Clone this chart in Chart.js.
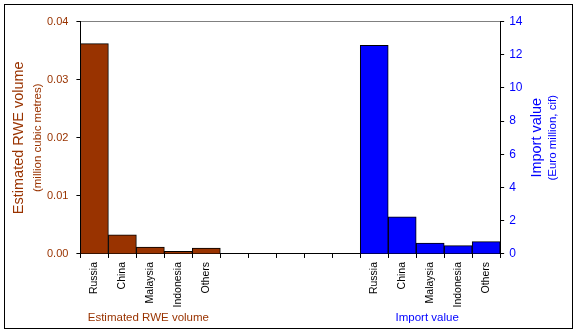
<!DOCTYPE html>
<html>
<head>
<meta charset="utf-8">
<script src="https://cdn.jsdelivr.net/npm/chart.js@4/dist/chart.umd.min.js"></script>
<style>
  html, body { margin: 0; padding: 0; background: #fff; }
  #wrap { position: relative; width: 577px; height: 332px; }
</style>
</head>
<body>
<div id="wrap"><canvas id="chart"></canvas></div>
<script>
const categories = ['Russia', 'China', 'Malaysia', 'Indonesia', 'Others'];
const gapSlots = 5;
// estimated RWE volume, million cubic metres
const volume = [0.0362, 0.0033, 0.0012, 0.00045, 0.00103];
// import value, Euro million cif
const importValue = [12.57, 2.23, 0.66, 0.50, 0.74];
const volumeTicks = [0, 0.01, 0.02, 0.03, 0.04];
const importTicks = [0, 2, 4, 6, 8, 10, 12, 14];

const BROWN = '#993300';
const BLUE = '#0000ff';
const FONT = '"Liberation Sans", Arial, sans-serif';

const blanks = new Array(gapSlots).fill('');
const labels = [...categories, ...blanks, ...categories];
const pad = n => new Array(n).fill(null);

Chart.defaults.font.family = FONT;

// frame, axis titles and group captions
const extras = {
    id: 'extras',
    beforeDraw(chart) {
        const c = chart.ctx;
        c.save();
        c.fillStyle = '#fff';
        c.fillRect(0, 0, chart.width, chart.height);
        c.strokeStyle = '#000';
        c.lineWidth = 1;
        c.strokeRect(4.5, 4.5, 568, 324);
        c.restore();
    },
    afterDraw(chart) {
        const c = chart.ctx;
        const area = chart.chartArea;
        const midY = (area.top + area.bottom) / 2;
        const vert = (text, x, size, color) => {
            c.save();
            c.translate(x, midY);
            c.rotate(-Math.PI / 2);
            c.font = size + 'px ' + FONT;
            c.fillStyle = color;
            c.textAlign = 'center';
            c.textBaseline = 'middle';
            c.fillText(text, 0, 0);
            c.restore();
        };
        vert('Estimated RWE volume', 19, 14.5, BROWN);
        vert('(million cubic metres)', 38, 11.5, BROWN);
        vert('Import value', 537, 14.5, BLUE);
        vert('(Euro million, cif)', 553, 11.5, BLUE);

        const x = chart.scales.x;
        const n = categories.length;
        const mid = (a, b) => (x.getPixelForValue(a) + x.getPixelForValue(b)) / 2;
        c.save();
        c.font = '11.5px ' + FONT;
        c.textAlign = 'center';
        c.textBaseline = 'middle';
        c.fillStyle = BROWN;
        c.fillText('Estimated RWE volume', mid(0, n - 1) - 2, 318);
        c.fillStyle = BLUE;
        c.fillText('Import value', mid(n + gapSlots, 2 * n + gapSlots - 1) - 3, 318);
        c.restore();
    }
};

new Chart(document.getElementById('chart'), {
    type: 'bar',
    data: {
        labels: labels,
        datasets: [{
            label: 'Estimated RWE volume',
            data: [...volume, ...pad(gapSlots + categories.length)],
            backgroundColor: BROWN,
            yAxisID: 'y'
        }, {
            label: 'Import value',
            data: [...pad(categories.length + gapSlots), ...importValue],
            backgroundColor: BLUE,
            yAxisID: 'y1'
        }]
    },
    options: {
        responsive: true,
        maintainAspectRatio: false,
        animation: false,
        devicePixelRatio: 1,
        layout: { padding: { left: 39, right: 49.5, top: 13.5, bottom: 20.5 } },
        datasets: {
            bar: {
                grouped: false,
                barPercentage: 1,
                categoryPercentage: 1,
                borderColor: '#000',
                borderWidth: 1,
                borderSkipped: 'bottom'
            }
        },
        plugins: {
            legend: { display: false },
            tooltip: { enabled: false }
        },
        scales: {
            x: {
                offset: true,
                grid: { offset: true, drawOnChartArea: false, tickLength: 4, tickColor: '#000' },
                border: { color: '#000' },
                ticks: {
                    autoSkip: false,
                    minRotation: 90,
                    maxRotation: 90,
                    padding: 4,
                    color: '#000',
                    font: { size: 10.5 }
                }
            },
            // plain grey edge along the top of the plot
            xTop: {
                type: 'category',
                position: 'top',
                offset: true,
                grid: { display: false },
                ticks: { display: false },
                border: { color: '#808080' }
            },
            y: {
                position: 'left',
                min: 0,
                max: volumeTicks[volumeTicks.length - 1],
                afterBuildTicks: s => { s.ticks = volumeTicks.map(v => ({ value: v })); },
                grid: { drawOnChartArea: false, tickColor: '#000', tickLength: 4 },
                border: { color: '#000' },
                ticks: {
                    padding: 8,
                    color: BROWN,
                    font: { size: 11 },
                    callback: v => Number(v).toFixed(2)
                }
            },
            y1: {
                position: 'right',
                min: 0,
                max: importTicks[importTicks.length - 1],
                afterBuildTicks: s => { s.ticks = importTicks.map(v => ({ value: v })); },
                grid: { drawOnChartArea: false, tickColor: '#000', tickLength: 4 },
                border: { color: '#000' },
                ticks: {
                    padding: 5,
                    color: BLUE,
                    font: { size: 12 }
                }
            }
        }
    },
    plugins: [extras]
});
</script>
</body>
</html>
